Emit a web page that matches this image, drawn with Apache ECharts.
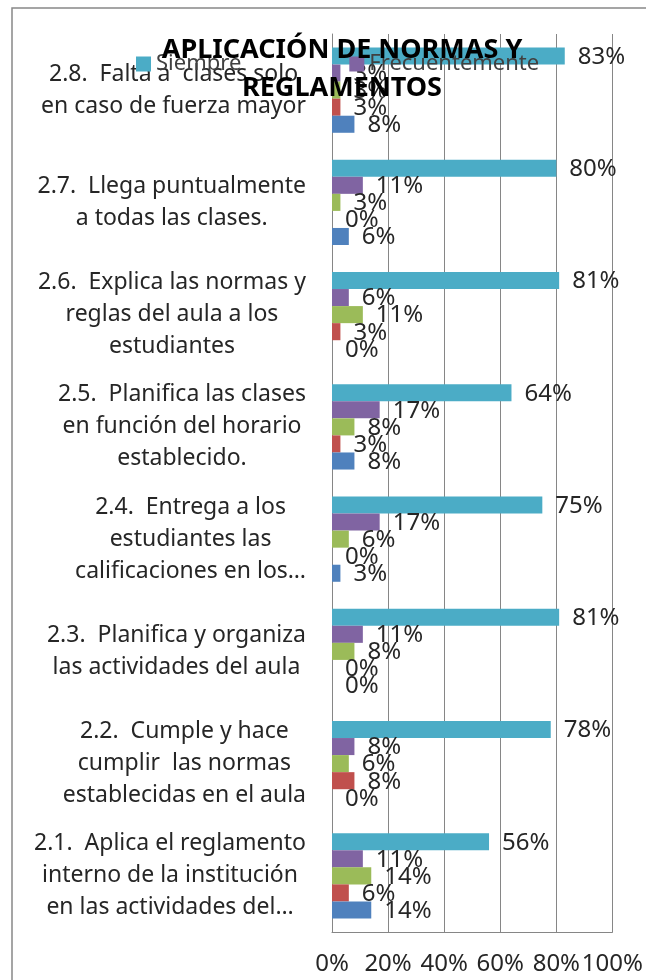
<!DOCTYPE html>
<html>
<head>
<meta charset="utf-8">
<script src="https://cdn.jsdelivr.net/npm/echarts@6/dist/echarts.min.js"></script>
<style>
  html, body { margin: 0; padding: 0; background: #fff; }
  #main { width: 646px; height: 980px; }
</style>
</head>
<body>
<div id="main"></div>
<script>
// categorias de abajo hacia arriba
var categorias = [
  '2.1.  Aplica el reglamento\ninterno de la institución\nen las actividades del…',
  '2.2.  Cumple y hace\ncumplir  las normas\nestablecidas en el aula',
  '2.3.  Planifica y organiza\nlas actividades del aula',
  '2.4.  Entrega a los\nestudiantes las\ncalificaciones en los…',
  '2.5.  Planifica las clases\nen función del horario\nestablecido.',
  '2.6.  Explica las normas y\nreglas del aula a los\nestudiantes',
  '2.7.  Llega puntualmente\na todas las clases.',
  '2.8.  Falta a  clases solo\nen caso de fuerza mayor'
];
var siempre        = [56, 78, 81, 75, 64, 81, 80, 83];
var frecuentemente = [11, 8, 11, 17, 17, 6, 11, 3];
var aVeces         = [14, 6, 8, 6, 8, 11, 3, 3];
var raraVez        = [6, 8, 0, 0, 3, 3, 0, 3];
var nunca          = [14, 0, 0, 3, 8, 0, 6, 8];
var ticksX = [0, 20, 40, 60, 80, 100];

var chart = echarts.init(document.getElementById('main'));

function serie(nombre, datos, color) {
  return {
    name: nombre,
    type: 'bar',
    data: datos,
    barGap: '0%',
    barCategoryGap: '24%',
    itemStyle: { color: color },
    label: {
      show: true,
      position: 'right',
      distance: 13,
      offset: [0, 1],
      formatter: '{c}%',
      fontFamily: 'Noto Sans',
      fontSize: 24,
      color: '#262626'
    }
  };
}

var option = {
  animation: false,
  backgroundColor: '#fff',
  title: {
    text: 'APLICACIÓN DE NORMAS Y\nREGLAMENTOS',
    left: 337,
    top: 26,
    textAlign: 'center',
    textStyle: {
      fontFamily: 'Noto Sans',
      fontWeight: 'bold',
      fontSize: 27,
      lineHeight: 38,
      color: '#000'
    }
  },
  legend: {
    data: ['Siempre', 'Frecuentemente'],
    left: 131,
    top: 48,
    itemWidth: 15,
    itemHeight: 15,
    itemGap: 108,
    icon: 'rect',
    textStyle: { fontFamily: 'Noto Sans', fontSize: 22, color: '#404040' }
  },
  graphic: [{
    type: 'rect',
    shape: { x: 12, y: 8, width: 700, height: 1000 },
    style: { fill: 'none', stroke: '#888', lineWidth: 1.5 },
    silent: true
  }],
  grid: { left: 332, right: 33, top: 34, bottom: 48 },
  xAxis: {
    type: 'value',
    min: 0,
    max: 100,
    interval: 20,
    axisLine: { show: true, lineStyle: { color: '#868686' } },
    axisTick: { show: false },
    splitLine: { show: true, lineStyle: { color: '#868686' } },
    axisLabel: {
      margin: 20,
      fontFamily: 'Noto Sans',
      fontSize: 24,
      color: '#262626',
      formatter: function (v) { return ticksX.indexOf(v) >= 0 ? v + '%' : ''; }
    }
  },
  yAxis: {
    type: 'category',
    data: categorias,
    axisLine: { show: true, lineStyle: { color: '#868686' } },
    axisTick: { show: false },
    axisLabel: {
      align: 'right',
      margin: 26,
      formatter: function (v) {
        return v.split('\n').map(function (l) { return '{c|' + l + '}'; }).join('\n');
      },
      rich: {
        c: {
          align: 'center',
          fontFamily: 'Noto Sans',
          fontSize: 23,
          lineHeight: 32,
          color: '#262626'
        }
      }
    }
  },
  series: [
    serie('Siempre', siempre, '#4BACC6'),
    serie('Frecuentemente', frecuentemente, '#8064A2'),
    serie('A veces', aVeces, '#9BBB59'),
    serie('Rara vez', raraVez, '#C0504D'),
    serie('Nunca', nunca, '#4F81BD')
  ]
};

chart.setOption(option);
</script>
</body>
</html>
